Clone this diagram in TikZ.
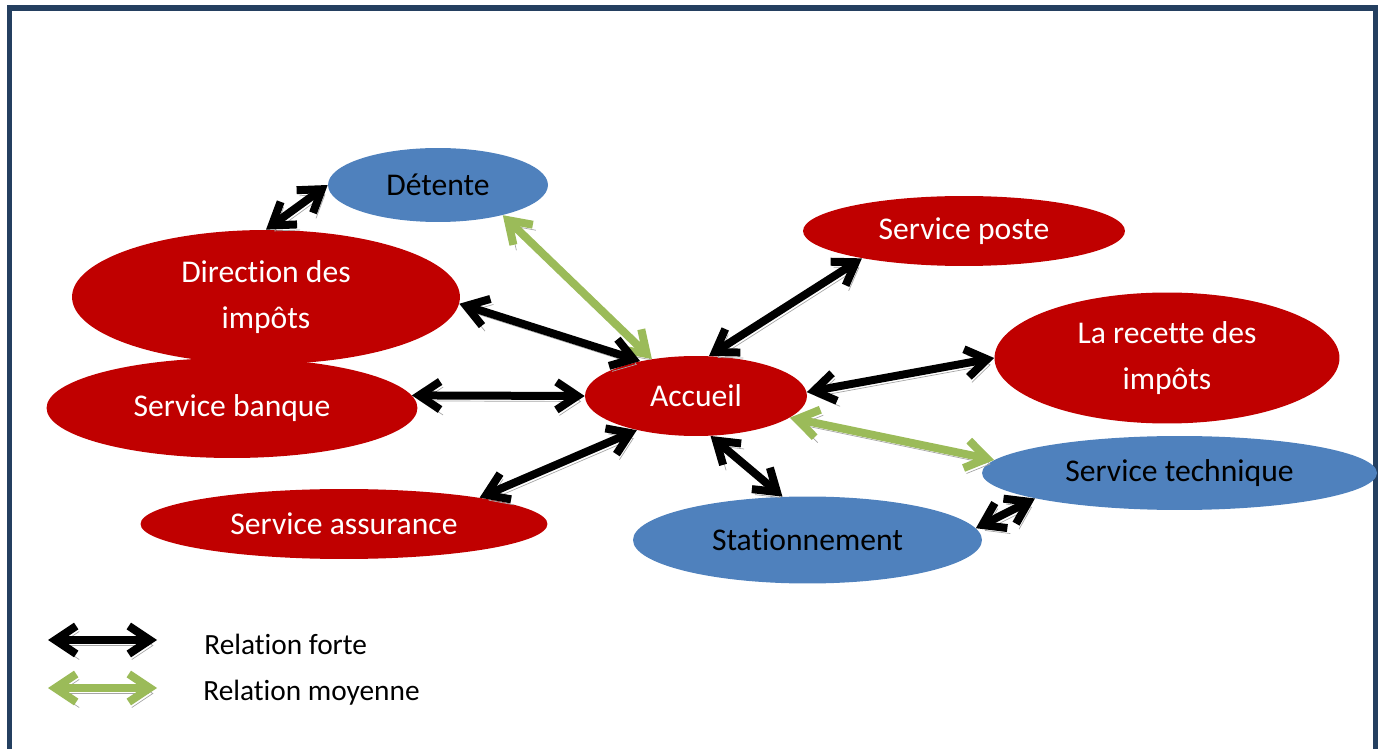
\documentclass[tikz,border=0pt]{standalone}
\usepackage{fontspec}
\setmainfont{Carlito}[Ligatures=NoCommon]
\usetikzlibrary{shapes.geometric,arrows.meta}
\definecolor{rouge}{HTML}{C00000}
\definecolor{bleu}{HTML}{4F81BD}
\definecolor{vert}{HTML}{9BBB59}
\definecolor{cadre}{HTML}{243F60}
\definecolor{ombre}{HTML}{A6A6A6}

\begin{document}
\begin{tikzpicture}[x=0.02cm, y=-0.02cm,
        service/.style={ellipse, inner sep=0pt, align=center, fill=rouge, text=white, font=\fontsize{18}{26}\selectfont},
        annexe/.style={service, fill=bleu, text=black},
        fleche/.style={<->, >={Straight Barb[length=0.42cm, width=0.56cm]}, line width=0.16cm, line cap=round, line join=round,
            preaction={draw=ombre, transform canvas={xshift=0.06cm, yshift=-0.11cm}}},
        forte/.style={fleche, draw=black},
        moyenne/.style={fleche, draw=vert},
        legende/.style={font=\fontsize{16.7}{20}\selectfont, inner sep=0pt}
    ]
        \useasboundingbox (0,0) rectangle (1383,749);

        % Cadre
        \draw[cadre, line width=0.11cm] (9.5,749) |- (1375.5,8) -- (1375.5,749);

        % Services
        \node[annexe, minimum width=4.4cm, minimum height=1.48cm] (det) at (438,185) {Détente};
        \node[service, minimum width=6.44cm, minimum height=1.4cm] (poste) at (964,231) {Service poste};
        \node[service, minimum width=7.76cm, minimum height=2.68cm] (dir) at (266,297) {Direction des\\impôts};
        \node[service, minimum width=6.9cm, minimum height=2.62cm] (rec) at (1167,358) {La recette des\\impôts};
        \node[service, minimum width=7.42cm, minimum height=2cm] (ban) at (232,408) {Service banque};
        \node[service, minimum width=4.44cm, minimum height=1.6cm] (acc) at (696,396) {Accueil};
        \node[annexe, minimum width=7.9cm, minimum height=1.48cm] (tech) at (1179.5,473) {Service technique};
        \node[service, minimum width=8.14cm, minimum height=1.4cm] (ass) at (344,524) {Service assurance};
        \node[annexe, minimum width=6.98cm, minimum height=1.74cm] (sta) at (807.5,540) {Stationnement};

        % Relations
        \draw[forte] (dir.north) -- (det.west);
        \draw[moyenne] (det.-25) -- (acc.140);
        \draw[forte] (dir.-2) -- (acc.148);
        \draw[forte] (poste.-165) -- (acc.72);
        \draw[forte] (acc.2) -- (rec.west);
        \draw[forte] (ban.4) -- (acc.west);
        \draw[forte] (ass.11) -- (acc.-150);
        \draw[forte] (acc.-70) -- (sta.120);
        \draw[moyenne] (acc.-13) -- (tech.176);
        \draw[forte] (sta.4) -- (tech.-170);

        % Legende
        \coordinate (f1) at (48,640);
        \coordinate (f2) at (157,640);
        \coordinate (m1) at (48,688);
        \coordinate (m2) at (157,688);
        \draw[forte] (f1) -- (f2);
        \draw[moyenne] (m1) -- (m2);
        \node[legende, anchor=base west] (lf) at (204,654) {Relation forte};
        \node[legende, anchor=base west] (lm) at (203,700) {Relation moyenne};
    \end{tikzpicture}
\end{document}
